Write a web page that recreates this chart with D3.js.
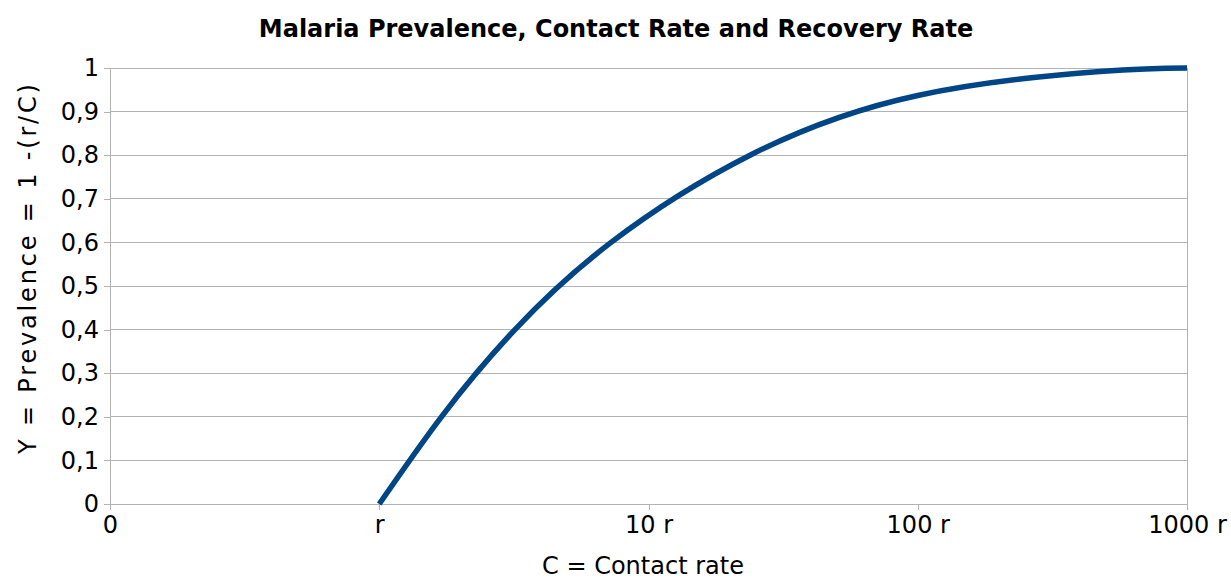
<!DOCTYPE html>
<html>
<head>
<meta charset="utf-8">
<script src="https://cdn.jsdelivr.net/npm/d3@7"></script>
<style>
  html, body { margin: 0; padding: 0; background: #fff; }
  svg { display: block; }
  text { font-family: "DejaVu Sans", Verdana, sans-serif; fill: #000; }
</style>
</head>
<body>
<svg id="chart" width="1231" height="579"></svg>
<script>
// ---- data ----
const chartTitle = "Malaria Prevalence, Contact Rate and Recovery Rate";
const xTitle = "C = Contact rate";
const yTitle = "Y = Prevalence = 1 -(r/C)";
const xTickLabels = ["0", "r", "10 r", "100 r", "1000 r"];
const yTickValues = [0, 0.1, 0.2, 0.3, 0.4, 0.5, 0.6, 0.7, 0.8, 0.9, 1];
// position along the x axis in category units (r = 1, 10 r = 2, 100 r = 3, 1000 r = 4)
const contactPos = [1.000, 1.231, 1.504, 1.861, 2.377, 3.000, 3.677, 4.000];
const prevalence = [0.000, 0.200, 0.400, 0.600, 0.800, 0.937, 0.992, 1.000];

// ---- layout ----
const svg = d3.select("#chart");
const mLeft = 110, mRight = 1187, mTop = 68, mBottom = 504;

const x = d3.scaleLinear().domain([0, xTickLabels.length - 1]).range([mLeft, mRight]);
const y = d3.scaleLinear().domain([0, 1]).range([mBottom, mTop]);
const grid = "#b3b3b3";

// gridlines
svg.append("g").selectAll("line").data(yTickValues).join("line")
  .attr("x1", mLeft).attr("x2", mRight)
  .attr("y1", d => y(d)).attr("y2", d => y(d))
  .attr("stroke", grid).attr("stroke-width", 1).attr("shape-rendering", "crispEdges");

// right border
svg.append("line").attr("x1", mRight).attr("x2", mRight).attr("y1", mTop).attr("y2", mBottom)
  .attr("stroke", grid).attr("shape-rendering", "crispEdges");

// y axis
const fmt = d => d3.format(".1~f")(d).replace(".", ",");
const yAxis = svg.append("g").attr("transform", `translate(${mLeft},0)`)
  .call(d3.axisLeft(y).tickValues(yTickValues).tickFormat(fmt).tickSize(6).tickPadding(5));
yAxis.selectAll("line, path").attr("stroke", grid).attr("shape-rendering", "crispEdges");
yAxis.selectAll("text").style("font-size", "24px").attr("fill", "#000")
  .style("font-family", '"DejaVu Sans", sans-serif');

// x axis
const xAxis = svg.append("g").attr("transform", `translate(0,${mBottom})`)
  .call(d3.axisBottom(x).tickValues(d3.range(xTickLabels.length)).tickFormat(i => xTickLabels[i]).tickSize(6).tickPadding(6));
xAxis.selectAll("line, path").attr("stroke", grid).attr("shape-rendering", "crispEdges");
xAxis.selectAll("text").style("font-size", "24px").attr("fill", "#000")
  .style("font-family", '"DejaVu Sans", sans-serif');

// curve
const pts = contactPos.map((c, i) => [c, prevalence[i]]);
svg.append("path").datum(pts)
  .attr("fill", "none").attr("stroke", "#004586").attr("stroke-width", 5.5)
  .attr("d", d3.line().x(d => x(d[0])).y(d => y(d[1])).curve(d3.curveNatural));

// titles
svg.append("text").attr("x", 616).attr("y", 37).attr("text-anchor", "middle")
  .style("font-size", "24px").style("font-weight", "bold").text(chartTitle);
svg.append("text").attr("x", 643).attr("y", 574).attr("text-anchor", "middle")
  .style("font-size", "24px").text(xTitle);
svg.append("text").attr("transform", "translate(36,269) rotate(-90)").attr("text-anchor", "middle")
  .attr("textLength", 370).attr("lengthAdjust", "spacing")
  .style("font-size", "24px").text(yTitle);
</script>
</body>
</html>
